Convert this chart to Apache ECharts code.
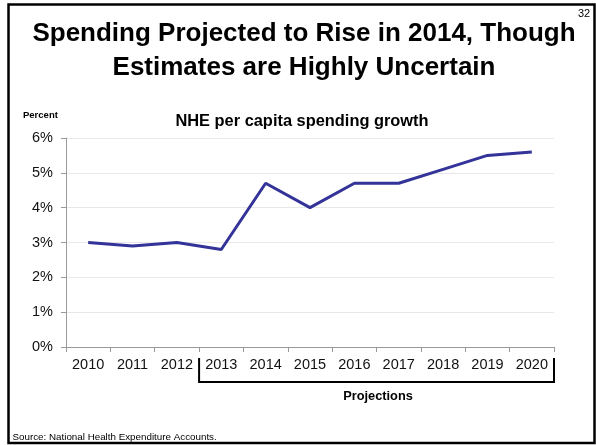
<!DOCTYPE html>
<html>
<head>
<meta charset="utf-8">
<script src="https://cdn.jsdelivr.net/npm/echarts@6/dist/echarts.min.js"></script>
<style>
  html, body { margin: 0; padding: 0; background: #fff; }
  #chart { width: 596px; height: 445px; }
</style>
</head>
<body>
<div id="chart"></div>
<script>
// NHE per capita spending growth, percent per year
const years = ['2010', '2011', '2012', '2013', '2014', '2015', '2016', '2017', '2018', '2019', '2020'];
const growth = [3.0, 2.9, 3.0, 2.8, 4.7, 4.0, 4.7, 4.7, 5.1, 5.5, 5.6];
const yTicks = [0, 1, 2, 3, 4, 5, 6];
const projectionStart = '2013';
const projectionEnd = '2020';

const FONT = 'Liberation Sans, Arial, sans-serif';
const chart = echarts.init(document.getElementById('chart'));

chart.setOption({
  animation: false,
  backgroundColor: '#fff',
  title: [
    {
      text: 'Spending Projected to Rise in 2014, Though\nEstimates are Highly Uncertain',
      left: 304, top: 17, textAlign: 'center', padding: 0,
      textStyle: { fontFamily: FONT, fontSize: 26, fontWeight: 'bold', color: '#000', lineHeight: 34 }
    },
    {
      text: 'NHE per capita spending growth',
      left: 302, top: 113, textAlign: 'center', padding: 0,
      textStyle: { fontFamily: FONT, fontSize: 16.4, fontWeight: 'bold', color: '#000' }
    },
    {
      text: 'Percent',
      left: 23, top: 110, padding: 0,
      textStyle: { fontFamily: FONT, fontSize: 9.5, fontWeight: 'bold', color: '#000' }
    },
    {
      text: '32',
      left: 578, top: 8, padding: 0,
      textStyle: { fontFamily: FONT, fontSize: 11, fontWeight: 'normal', color: '#000' }
    },
    {
      text: 'Source: National Health Expenditure Accounts.',
      left: 12.5, top: 432, padding: 0,
      textStyle: { fontFamily: FONT, fontSize: 9.8, fontWeight: 'normal', color: '#000' }
    },
    {
      text: 'Projections',
      left: 378, top: 390, textAlign: 'center', padding: 0,
      textStyle: { fontFamily: FONT, fontSize: 12.8, fontWeight: 'bold', color: '#000' }
    }
  ],
  grid: { left: 66, right: 42, top: 138, bottom: 98 },
  xAxis: {
    type: 'category',
    data: years,
    boundaryGap: true,
    axisLine: { lineStyle: { color: '#999', width: 1 } },
    axisTick: { show: true, length: 5, lineStyle: { color: '#999' } },
    axisLabel: { fontFamily: FONT, fontSize: 14.5, color: '#111', margin: 10 }
  },
  yAxis: {
    type: 'value',
    min: yTicks[0],
    max: yTicks[yTicks.length - 1],
    interval: 1,
    axisLine: { show: true, lineStyle: { color: '#999', width: 1 } },
    axisTick: { show: true, length: 5, lineStyle: { color: '#999' } },
    splitLine: { lineStyle: { color: '#e8e8e8', width: 1 } },
    axisLabel: { fontFamily: FONT, fontSize: 14.5, color: '#111', margin: 13, formatter: v => v + '%' }
  },
  series: [{
    type: 'line',
    data: growth,
    symbol: 'none',
    lineStyle: { color: '#333399', width: 3 },
    itemStyle: { color: '#333399' }
  }]
});

// Slide frame and the bracket under the projected years
function drawOverlay() {
  const i0 = years.indexOf(projectionStart);
  const i1 = years.indexOf(projectionEnd);
  const p0 = chart.convertToPixel({ xAxisIndex: 0 }, i0);
  const p1 = chart.convertToPixel({ xAxisIndex: 0 }, i1);
  const step = (p1 - p0) / (i1 - i0);
  const xl = p0 - step / 2;
  const xr = p1 + step / 2;
  const yBase = chart.convertToPixel({ yAxisIndex: 0 }, 0);
  const yTop = yBase + 11;
  const yBot = yBase + 35;
  chart.setOption({
    graphic: [
      {
        type: 'polyline',
        shape: { points: [[xl, yTop], [xl, yBot], [xr, yBot], [xr, yTop]] },
        style: { stroke: '#000', lineWidth: 2, fill: null }
      },
      {
        type: 'rect',
        shape: { x: 8.5, y: 4.5, width: 586, height: 438.5 },
        style: { stroke: '#000', lineWidth: 2.5, fill: null }
      }
    ]
  });
}
drawOverlay();
</script>
</body>
</html>
